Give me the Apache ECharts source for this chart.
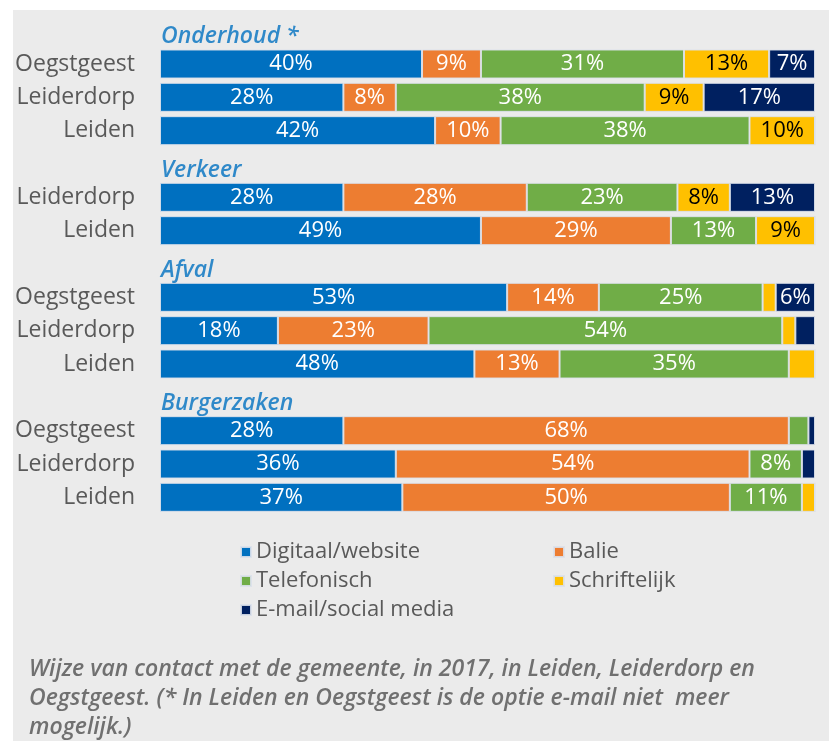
<!DOCTYPE html>
<html>
<head>
<meta charset="utf-8">
<script src="https://cdn.jsdelivr.net/npm/echarts@6/dist/echarts.min.js"></script>
<style>
  html, body { margin: 0; padding: 0; background: #ffffff; }
  #chart { width: 829px; height: 741px; }
</style>
</head>
<body>
<div id="chart"></div>
<script>
// rows top to bottom, header rows have a group name and no bar values
const rowLabels = ['', 'Oegstgeest', 'Leiderdorp', 'Leiden',
  '', 'Leiderdorp', 'Leiden',
  '', 'Oegstgeest', 'Leiderdorp', 'Leiden',
  '', 'Oegstgeest', 'Leiderdorp', 'Leiden'];
const groupHeaders = ['Onderhoud *', null, null, null,
  'Verkeer', null, null,
  'Afval', null, null, null,
  'Burgerzaken', null, null, null];

const seriesNames = ['Digitaal/website', 'Balie', 'Telefonisch', 'Schriftelijk', 'E-mail/social media'];
const digitaal     = [null, 40, 28, 42, null, 28, 49, null, 53, 18, 48, null, 28, 36, 37];
const balie        = [null, 9, 8, 10, null, 28, 29, null, 14, 23, 13, null, 68, 54, 50];
const telefonisch  = [null, 31, 38, 38, null, 23, 13, null, 25, 54, 35, null, 3, 8, 11];
const schriftelijk = [null, 13, 9, 10, null, 8, 9, null, 2, 2, 4, null, 0, 0, 2];
const email        = [null, 7, 17, 0, null, 13, 0, null, 6, 3, 0, null, 1, 2, 0];

const colors = ['#0070c0', '#ed7d31', '#70ad47', '#ffc000', '#002060'];
const labelColors = ['#ffffff', '#ffffff', '#ffffff', '#000000', '#ffffff'];
const footnote = 'Wijze van contact met de gemeente, in 2017, in Leiden, Leiderdorp en\n' +
  'Oegstgeest. (* In Leiden en Oegstgeest is de optie e-mail niet  meer\n' +
  'mogelijk.)';

const FONT = 'Open Sans';
const chart = echarts.init(document.getElementById('chart'));

const values = [digitaal, balie, telefonisch, schriftelijk, email];
const barSeries = values.map((data, i) => ({
  name: seriesNames[i],
  type: 'bar',
  stack: 'total',
  barWidth: 29,
  data: data,
  itemStyle: { color: colors[i], borderColor: 'rgba(220,225,235,0.9)', borderWidth: 1 },
  label: {
    show: true,
    position: 'inside',
    color: labelColors[i],
    fontFamily: FONT,
    fontSize: 22,
    formatter: p => (p.value >= 5 ? p.value + '%' : '')
  }
}));

chart.setOption({
  backgroundColor: 'transparent',
  animation: false,
  graphic: [{
    type: 'rect',
    left: 13, top: 10,
    shape: { width: 816, height: 731 },
    style: { fill: '#ebebeb' },
    z: -10
  }],
  title: {
    text: footnote,
    left: 24,
    top: 650,
    textStyle: {
      fontFamily: FONT,
      fontStyle: 'italic',
      fontWeight: 600,
      fontSize: 23,
      lineHeight: 29,
      color: '#707070'
    }
  },
  legend: {
    data: seriesNames,
    left: 235,
    top: 536,
    width: 640,
    icon: 'rect',
    itemWidth: 10,
    itemHeight: 10,
    itemGap: 7,
    textStyle: {
      fontFamily: FONT,
      fontSize: 22,
      color: '#595959',
      width: 290,
      lineHeight: 21
    }
  },
  grid: { left: 160, right: 14, top: 14, height: 500, containLabel: false },
  xAxis: { type: 'value', min: 0, max: 100, show: false },
  yAxis: {
    type: 'category',
    inverse: true,
    data: rowLabels.map((_, i) => String(i)),
    axisLine: { show: false },
    axisTick: { show: false },
    axisLabel: {
      margin: 25,
      fontFamily: FONT,
      fontSize: 23,
      color: '#595959',
      formatter: (v, i) => rowLabels[i]
    }
  },
  series: barSeries.concat([{
    name: 'headers',
    type: 'scatter',
    symbolSize: 0,
    z: 5,
    data: groupHeaders.map((h, i) => (h ? [0, i] : null)).filter(d => d),
    label: {
      show: true,
      position: 'right',
      distance: 1,
      offset: [0, 6],
      fontFamily: FONT,
      fontStyle: 'italic',
      fontWeight: 600,
      fontSize: 23,
      color: '#0070c0',
      formatter: p => groupHeaders[p.data[1]]
    }
  }])
});
</script>
</body>
</html>
